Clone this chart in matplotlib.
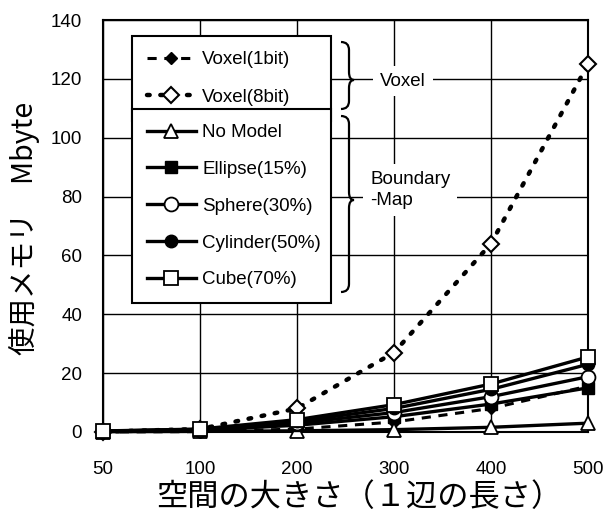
import matplotlib
matplotlib.use("Agg")
import matplotlib.pyplot as plt
from matplotlib.path import Path
from matplotlib.patches import PathPatch

# ---- data (Mbyte) ----
sizes = ["50", "100", "200", "300", "400", "500"]
voxel_1bit = [0.02, 0.13, 1.0, 3.4, 8.0, 15.6]
voxel_8bit = [0.13, 1.0, 8.0, 27.0, 64.0, 125.0]
no_model = [0.1, 0.2, 0.4, 0.8, 1.6, 3.0]
ellipse_15 = [0.2, 0.6, 2.3, 5.2, 9.5, 15.0]
sphere_30 = [0.25, 0.8, 3.0, 6.6, 12.0, 18.8]
cylinder_50 = [0.3, 0.9, 3.6, 8.0, 14.5, 23.0]
cube_70 = [0.35, 1.0, 4.2, 9.3, 16.3, 25.5]
yticks = [0, 20, 40, 60, 80, 100, 120, 140]

W, H = 608, 514
fig = plt.figure(figsize=(W / 100, H / 100), dpi=100)
ax = fig.add_axes([103 / W, 1 - 432 / H, (588 - 103) / W, (432 - 20) / H])

latin = ["Liberation Sans", "DejaVu Sans"]
cjk = ["Noto Sans CJK JP", "DejaVu Sans"]

xs = list(range(len(sizes)))
lw = 2.4
common = dict(color="black", clip_on=False, zorder=3)

ax.plot(xs, voxel_1bit, linestyle=(0, (3, 2.5)), lw=2.2, marker="D", ms=6,
        mfc="black", mec="black", label="Voxel(1bit)", **common)
ax.plot(xs, voxel_8bit, linestyle=(0, (0.6, 2.4)), lw=3.2, marker="D", ms=8,
        mfc="white", mec="black", mew=1.5, dash_capstyle="round",
        label="Voxel(8bit)", **common)
ax.plot(xs, no_model, lw=lw, marker="^", ms=10, mfc="white", mec="black",
        mew=1.3, label="No Model", **common)
ax.plot(xs, ellipse_15, lw=lw, marker="s", ms=9, mfc="black", mec="black",
        label="Ellipse(15%)", **common)
ax.plot(xs, sphere_30, lw=lw, marker="o", ms=10, mfc="white", mec="black",
        mew=1.3, label="Sphere(30%)", **common)
ax.plot(xs, cylinder_50, lw=lw, marker="o", ms=9, mfc="black", mec="black",
        label="Cylinder(50%)", **common)
ax.plot(xs, cube_70, lw=lw, marker="s", ms=10, mfc="white", mec="black",
        mew=1.3, label="Cube(70%)", **common)

ax.set_xlim(0, len(sizes) - 1)
ax.set_ylim(0, 140)
ax.set_xticks(xs)
ax.set_xticklabels(sizes)
ax.set_yticks(yticks)
ax.grid(True, color="black", lw=1.0)
ax.set_axisbelow(True)
for s in ax.spines.values():
    s.set_linewidth(1.5)
ax.tick_params(axis="both", length=0, labelsize=13.5)
ax.tick_params(axis="x", pad=21)
ax.tick_params(axis="y", pad=15)
for lab in ax.get_xticklabels() + ax.get_yticklabels():
    lab.set_family(latin)

fig.text(359 / W, 1 - 497 / H, "空間の大きさ（１辺の長さ）", family=cjk,
         fontsize=22.5, ha="center", va="center")
fig.text(24 / W, 1 - 228 / H, "使用メモリ　Mbyte", family=cjk,
         fontsize=20.5, rotation=90, ha="center", va="center")

# ---- legends ----
handles, labels = ax.get_legend_handles_labels()
leg_kw = dict(loc="upper left", mode="expand", bbox_transform=fig.transFigure,
              frameon=True, fancybox=False, framealpha=1, edgecolor="black",
              handlelength=2.6, handletextpad=0.35, borderaxespad=0,
              prop={"family": latin, "size": 13.5})
leg1 = ax.legend(handles[:2], labels[:2], borderpad=0.8, labelspacing=1.1,
                 bbox_to_anchor=(132 / W, 1 - 109 / H, 199 / W, 73 / H), **leg_kw)
leg1.get_frame().set_linewidth(1.5)
ax.add_artist(leg1)
leg2 = ax.legend(handles[2:], labels[2:], borderpad=0.8, labelspacing=1.05,
                 bbox_to_anchor=(132 / W, 1 - 298 / H, 199 / W, 189 / H), **leg_kw)
leg2.get_frame().set_linewidth(1.5)


# ---- braces grouping the legend entries ----
def brace(x0, yt, yb, ym, r=8, tip=5):
    def p(x, y):
        return (x / W, 1 - y / H)
    x1 = x0 + r
    verts = [p(x0, yt), p(x1, yt), p(x1, yt + r),
             p(x1, ym - r),
             p(x1, ym), p(x1 + tip, ym),
             p(x1, ym), p(x1, ym + r),
             p(x1, yb - r),
             p(x1, yb), p(x0, yb)]
    codes = [Path.MOVETO, Path.CURVE3, Path.CURVE3,
             Path.LINETO,
             Path.CURVE3, Path.CURVE3,
             Path.CURVE3, Path.CURVE3,
             Path.LINETO,
             Path.CURVE3, Path.CURVE3]
    fig.add_artist(PathPatch(Path(verts, codes), transform=fig.transFigure,
                             fill=False, lw=1.6, edgecolor="black", zorder=6))


brace(341, 42, 109, 80)
brace(341, 116, 292, 200)

box = dict(facecolor="white", edgecolor="none", pad=5)
fig.text(380 / W, 1 - 81 / H, "Voxel", family=latin, fontsize=13.5,
         ha="left", va="center", bbox=box, zorder=7)
fig.text(370 / W, 1 - 190 / H, "Boundary\n-Map", family=latin, fontsize=13.5,
         ha="left", va="center", linespacing=1.3, bbox=box, zorder=7)

fig.savefig("out.png", dpi=100)
